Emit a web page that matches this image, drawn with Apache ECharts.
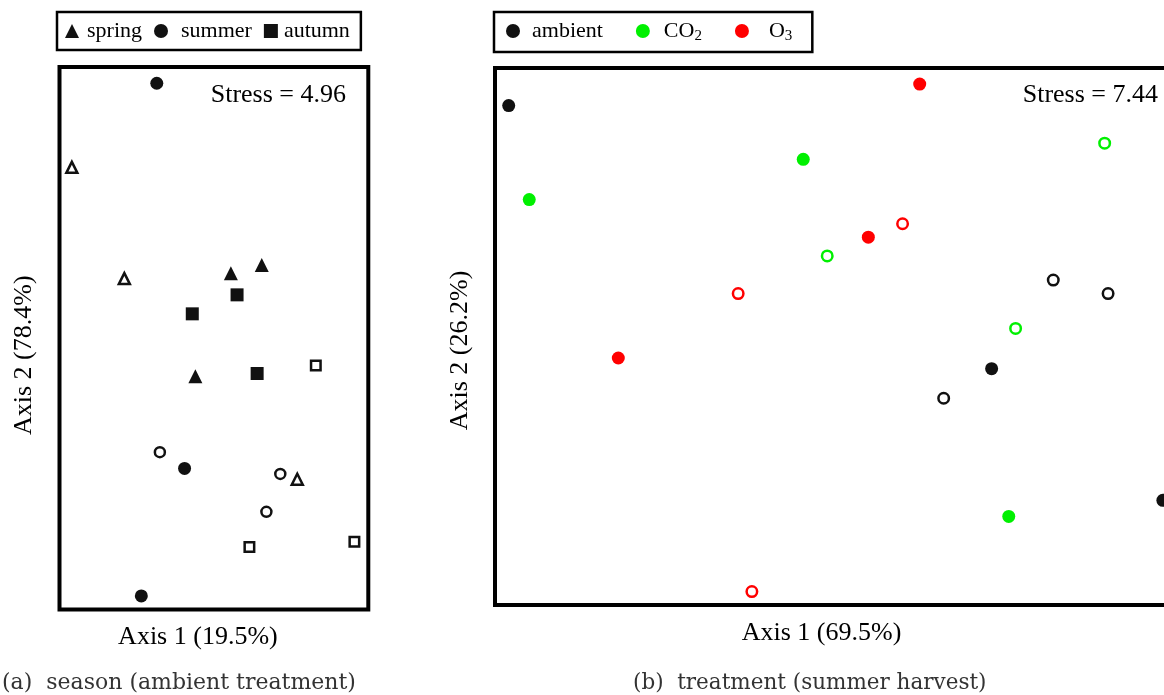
<!DOCTYPE html>
<html><head><meta charset="utf-8">
<script src="https://cdn.jsdelivr.net/npm/echarts@6/dist/echarts.min.js"></script>
<style>html,body{margin:0;padding:0;background:#fff}#c{width:1164px;height:695px}</style>
</head><body><div id="c"></div>
<script>
// Panel (a): season (ambient treatment) — NMDS scores [axis1, axis2]
const springFilled = [[0.11,0.24],[0.31,0.27],[-0.12,-0.14]];
const springOpen   = [[-0.92,0.63],[-0.58,0.22],[0.54,-0.52]];
const summerFilled = [[-0.37,0.94],[-0.19,-0.48],[-0.47,-0.95]];
const summerOpen   = [[-0.35,-0.42],[0.43,-0.50],[0.34,-0.64]];
const autumnFilled = [[0.15,0.16],[-0.14,0.09],[0.28,-0.13]];
const autumnOpen   = [[0.66,-0.10],[0.23,-0.77],[0.91,-0.75]];
// Panel (b): treatment (summer harvest)
const ambientFilled = [[-0.96,0.86],[0.45,-0.12],[0.95,-0.61]];
const ambientOpen   = [[0.63,0.21],[0.79,0.16],[0.31,-0.23]];
const co2Filled     = [[-0.10,0.66],[-0.90,0.51],[0.50,-0.67]];
const co2Open       = [[0.78,0.72],[-0.03,0.30],[0.52,0.03]];
const o3Filled      = [[0.24,0.94],[0.09,0.37],[-0.64,-0.08]];
const o3Open        = [[0.19,0.42],[-0.29,0.16],[-0.25,-0.95]];

const seasonNames = ['spring','summer','autumn'];
const treatNames = ['ambient','CO2','O3'];
const axisNamesA = ['Axis 1 (19.5%)','Axis 2 (78.4%)'];
const axisNamesB = ['Axis 1 (69.5%)','Axis 2 (26.2%)'];
const stressA = 'Stress = 4.96';
const stressB = 'Stress = 7.44';
const captionA = '(a)  season (ambient treatment)';
const captionB = '(b)  treatment (summer harvest)';

const FONT = 'Liberation Serif';
const CAPFONT = 'DejaVu Serif';
const BLACK = '#111';
const GREEN = '#00f000';
const RED = '#ff0000';

function filled(name, data, symbol, size, color, xi){
  return {type:'scatter', name, data, symbol, symbolSize:size, xAxisIndex:xi, yAxisIndex:xi,
    itemStyle:{color, opacity:1}, emphasis:{disabled:true}, z:3};
}
function open(name, data, symbol, size, color, xi){
  return {type:'scatter', name, data, symbol, symbolSize:size, xAxisIndex:xi, yAxisIndex:xi,
    itemStyle:{color:'#fff', borderColor:color, borderWidth:2.5, opacity:1}, emphasis:{disabled:true}, z:3};
}
function xAx(gi, name){
  return {type:'value', gridIndex:gi, min:-1, max:1, axisLine:{show:false}, axisTick:{show:false},
    axisLabel:{show:false}, splitLine:{show:false}, name, nameLocation:'middle', nameGap:15,
    nameTextStyle:{fontFamily:FONT, fontSize:26, color:'#000', padding:[0,32,0,0]}};
}
function yAx(gi, name, shift){
  return {type:'value', gridIndex:gi, min:-1, max:1, axisLine:{show:false}, axisTick:{show:false},
    axisLabel:{show:false}, splitLine:{show:false}, name, nameLocation:'middle', nameGap:22, nameRotate:90,
    nameTextStyle:{fontFamily:FONT, fontSize:26, color:'#000', padding:[0,shift,0,0]}};
}
const lt = {fontFamily:FONT, fontSize:22, color:'#000'};
const sub = {fontFamily:FONT, fontSize:15, color:'#000'};

const chart = echarts.init(document.getElementById('c'), null, {renderer:'canvas'});
chart.setOption({
  animation:false,
  backgroundColor:'#fff',
  title:[
    {text:stressA, right:818, top:82, padding:0, textStyle:{fontFamily:FONT, fontSize:26, fontWeight:'normal', color:'#000'}},
    {text:stressB, right:6, top:82, padding:0, textStyle:{fontFamily:FONT, fontSize:26, fontWeight:'normal', color:'#000'}},
    {text:captionA, left:2, top:672, padding:0, textStyle:{fontFamily:CAPFONT, fontSize:22, fontWeight:'normal', color:'#333'}},
    {text:captionB, left:633, top:672, padding:0, textStyle:{fontFamily:CAPFONT, fontSize:21.5, fontWeight:'normal', color:'#333'}}
  ],
  legend:[
    {data:seasonNames, left:57, top:12, orient:'horizontal', padding:[8,11,8,8], itemGap:12,
     itemWidth:14, itemHeight:14, borderColor:'#000', borderWidth:2.5, selectedMode:false,
     formatter:function(n){ return n==='spring' ? '{sp|spring}' : n==='summer' ? '{su|summer}' : '{au|autumn}'; },
     textStyle:{fontFamily:FONT, fontSize:22, color:'#000',
       rich:{sp:Object.assign({padding:[0,2,0,3]}, lt), su:Object.assign({padding:[0,0,0,8]}, lt), au:Object.assign({padding:[0,0,0,1]}, lt)}}},
    {data:treatNames, left:494, top:12, orient:'horizontal', padding:[8,20,8,12], itemGap:33,
     itemWidth:14, itemHeight:14, borderColor:'#000', borderWidth:2.5, selectedMode:false,
     formatter:function(n){ if(n==='CO2') return '{c|CO}{cs|2}'; if(n==='O3') return '{o|O}{s|3}'; return '{a|'+n+'}'; },
     textStyle:{fontFamily:FONT, fontSize:22, color:'#000',
       rich:{a:Object.assign({padding:[0,0,0,7]}, lt), c:Object.assign({padding:[0,0,0,9]}, lt), o:Object.assign({padding:[0,0,0,15]}, lt),
             cs:Object.assign({padding:[11,5,0,0]}, sub), s:Object.assign({padding:[11,0,0,0]}, sub)}}}
  ],
  grid:[
    {left:59.5, top:67, right:795.7, bottom:85.5, show:true, borderColor:'#000', borderWidth:4, backgroundColor:'transparent', outerBoundsMode:'none'},
    {left:495, top:68, width:685, bottom:90, show:true, borderColor:'#000', borderWidth:4, backgroundColor:'transparent', outerBoundsMode:'none'}
  ],
  xAxis:[xAx(0, axisNamesA[0]), xAx(1, axisNamesB[0])],
  yAxis:[yAx(0, axisNamesA[1], 34), yAx(1, axisNamesB[1], 28)],
  series:[
    filled('spring', springFilled, 'triangle', 14, BLACK, 0),
    open('spring', springOpen, 'triangle', 11, BLACK, 0),
    filled('summer', summerFilled, 'circle', 13, BLACK, 0),
    open('summer', summerOpen, 'circle', 10, BLACK, 0),
    filled('autumn', autumnFilled, 'rect', 13, BLACK, 0),
    open('autumn', autumnOpen, 'rect', 9.5, BLACK, 0),
    filled('ambient', ambientFilled, 'circle', 13, BLACK, 1),
    open('ambient', ambientOpen, 'circle', 10.5, BLACK, 1),
    filled('CO2', co2Filled, 'circle', 13, GREEN, 1),
    open('CO2', co2Open, 'circle', 10.5, GREEN, 1),
    filled('O3', o3Filled, 'circle', 13, RED, 1),
    open('O3', o3Open, 'circle', 10.5, RED, 1)
  ]
});
</script></body></html>
